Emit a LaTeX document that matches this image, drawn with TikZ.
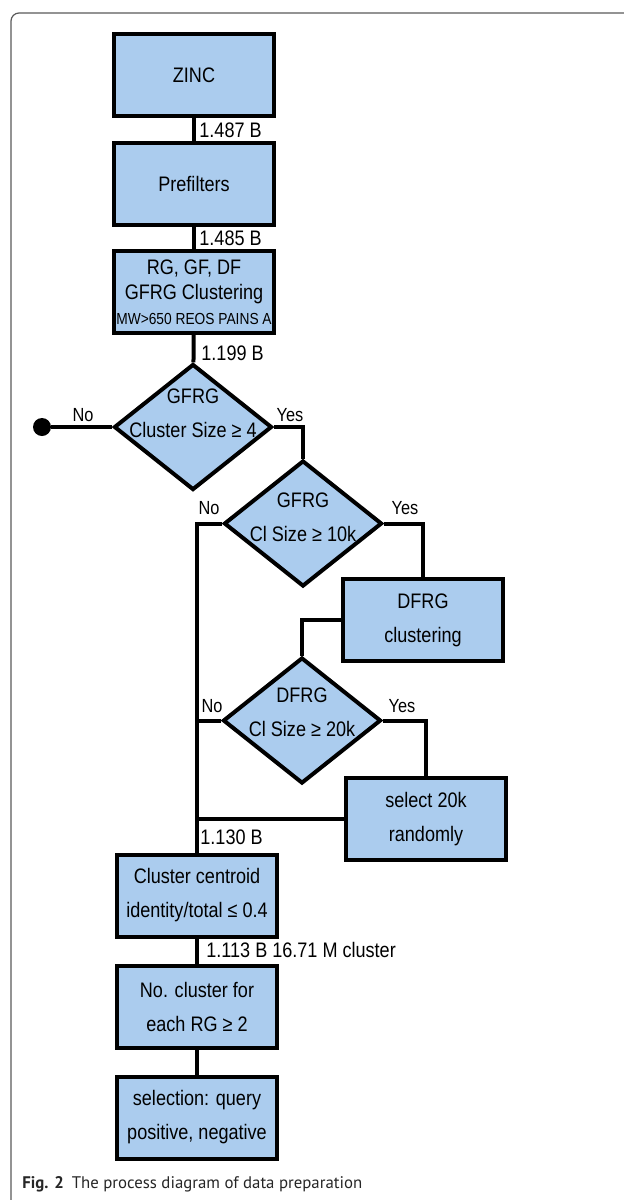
\documentclass[tikz,border=0pt]{standalone}
\usepackage{fontspec}
\setmainfont[FakeStretch=0.86]{Liberation Sans}
\newfontfamily\captionfont{PT Sans}
\usepackage{tikz}
\usetikzlibrary{shapes.geometric}
\definecolor{boxblue}{RGB}{171,204,238}

\begin{document}
\begin{tikzpicture}[
  x=0.5pt,y=-0.5pt,
  procbox/.style={draw=black,fill=boxblue,line width=2pt,minimum width=80pt,
                  minimum height=41pt,inner sep=0pt,align=center,
                  font=\fontsize{10.5}{17}\selectfont},
  decision/.style={diamond,draw=black,fill=boxblue,line width=2pt,
                   minimum width=79pt,minimum height=63pt,aspect=1.26,
                   inner sep=0pt},
  decisiontext/.style={align=center,inner sep=0pt,
                       font=\fontsize{10.5}{17}\selectfont},
  countlabel/.style={anchor=west,inner sep=0pt,font=\fontsize{10.5}{12}\selectfont},
  branchlabel/.style={inner sep=0pt,font=\fontsize{9.5}{11}\selectfont},
  link/.style={line width=2pt}
]
\useasboundingbox (0,0) rectangle (624,1200);
\draw[black!65,line width=0.6pt,rounded corners=4pt]
  (11,1200) -- (11,13) -- (624,13);

% main column
\node[procbox] (zinc) at (194,75) {ZINC};
\node[procbox] (prefilt) at (194,183.5) {Prefilters};
\node[procbox,font=\fontsize{10.5}{12.5}\selectfont] (rggf) at (194,292)
  {RG, GF, DF\\GFRG Clustering\\{\fontsize{8}{10}\selectfont MW>650 REOS PAINS A}};
\node[decision,label={[decisiontext,yshift=7pt]center:GFRG\\Cluster Size ≥ 4}]
  (gfrga) at (193,427) {};
\node[circle,fill=black,minimum size=9pt,inner sep=0pt] (stop) at (42,427) {};

% branches
\node[decision,label={[decisiontext,yshift=3pt]center:GFRG\\Cl Size ≥ 10k}]
  (gfrgb) at (303,523.5) {};
\node[procbox] (dfrg) at (423,620) {DFRG\\clustering};
\node[decision,label={[decisiontext,yshift=4pt]center:DFRG\\Cl Size ≥ 20k}]
  (dfrgc) at (302,720.5) {};
\node[procbox] (select) at (426,819) {select 20k\\randomly};

% lower column
\node[procbox] (centroid) at (197,895.5) {Cluster centroid\\identity/total ≤ 0.4};
\node[procbox] (percount) at (197,1006.5) {No. cluster for\\each RG ≥ 2};
\node[procbox] (query) at (197,1117.5) {selection: query\\positive, negative};

\draw[link] (zinc) -- (prefilt);
\draw[link] (prefilt) -- (rggf);
\draw[link] (rggf) -- (gfrga);
\draw[link] (stop) -- (gfrga.west);
\draw[link] (gfrga.east) -| (gfrgb.north);
\draw[link] (gfrgb.east) -| (dfrg.north);
\draw[link] (dfrg.west) -| (dfrgc.north);
\draw[link] (dfrgc.east) -| (select.north);
\draw[link] (gfrgb.west) -| (centroid.north);
\draw[link] (dfrgc.west) -- (dfrgc.west -| centroid.north);
\draw[link] (select.west) -- (select.west -| centroid.north);
\draw[link] (centroid) -- (percount);
\draw[link] (percount) -- (query);

% counts and branch labels
\node[countlabel] (n1) at (199,130) {1.487 B};
\node[countlabel] (n2) at (199,238) {1.485 B};
\node[countlabel] (n3) at (201,353) {1.199 B};
\node[countlabel] (n4) at (200,837) {1.130 B};
\node[countlabel] (n5) at (206,950) {1.113 B 16.71 M cluster};
\node[branchlabel] (noa) at (83,415) {No};
\node[branchlabel] (yesa) at (290,415) {Yes};
\node[branchlabel] (nob) at (209,508) {No};
\node[branchlabel] (yesb) at (405,508) {Yes};
\node[branchlabel] (noc) at (212,706) {No};
\node[branchlabel] (yesc) at (402,706) {Yes};

\node[anchor=west,inner sep=0pt,text=black!85,
      font=\captionfont\fontsize{8.4}{10}\selectfont] (caption) at (22,1184)
  {\textbf{Fig. 2}\hspace{4pt}The process diagram of data preparation};
\end{tikzpicture}
\end{document}
